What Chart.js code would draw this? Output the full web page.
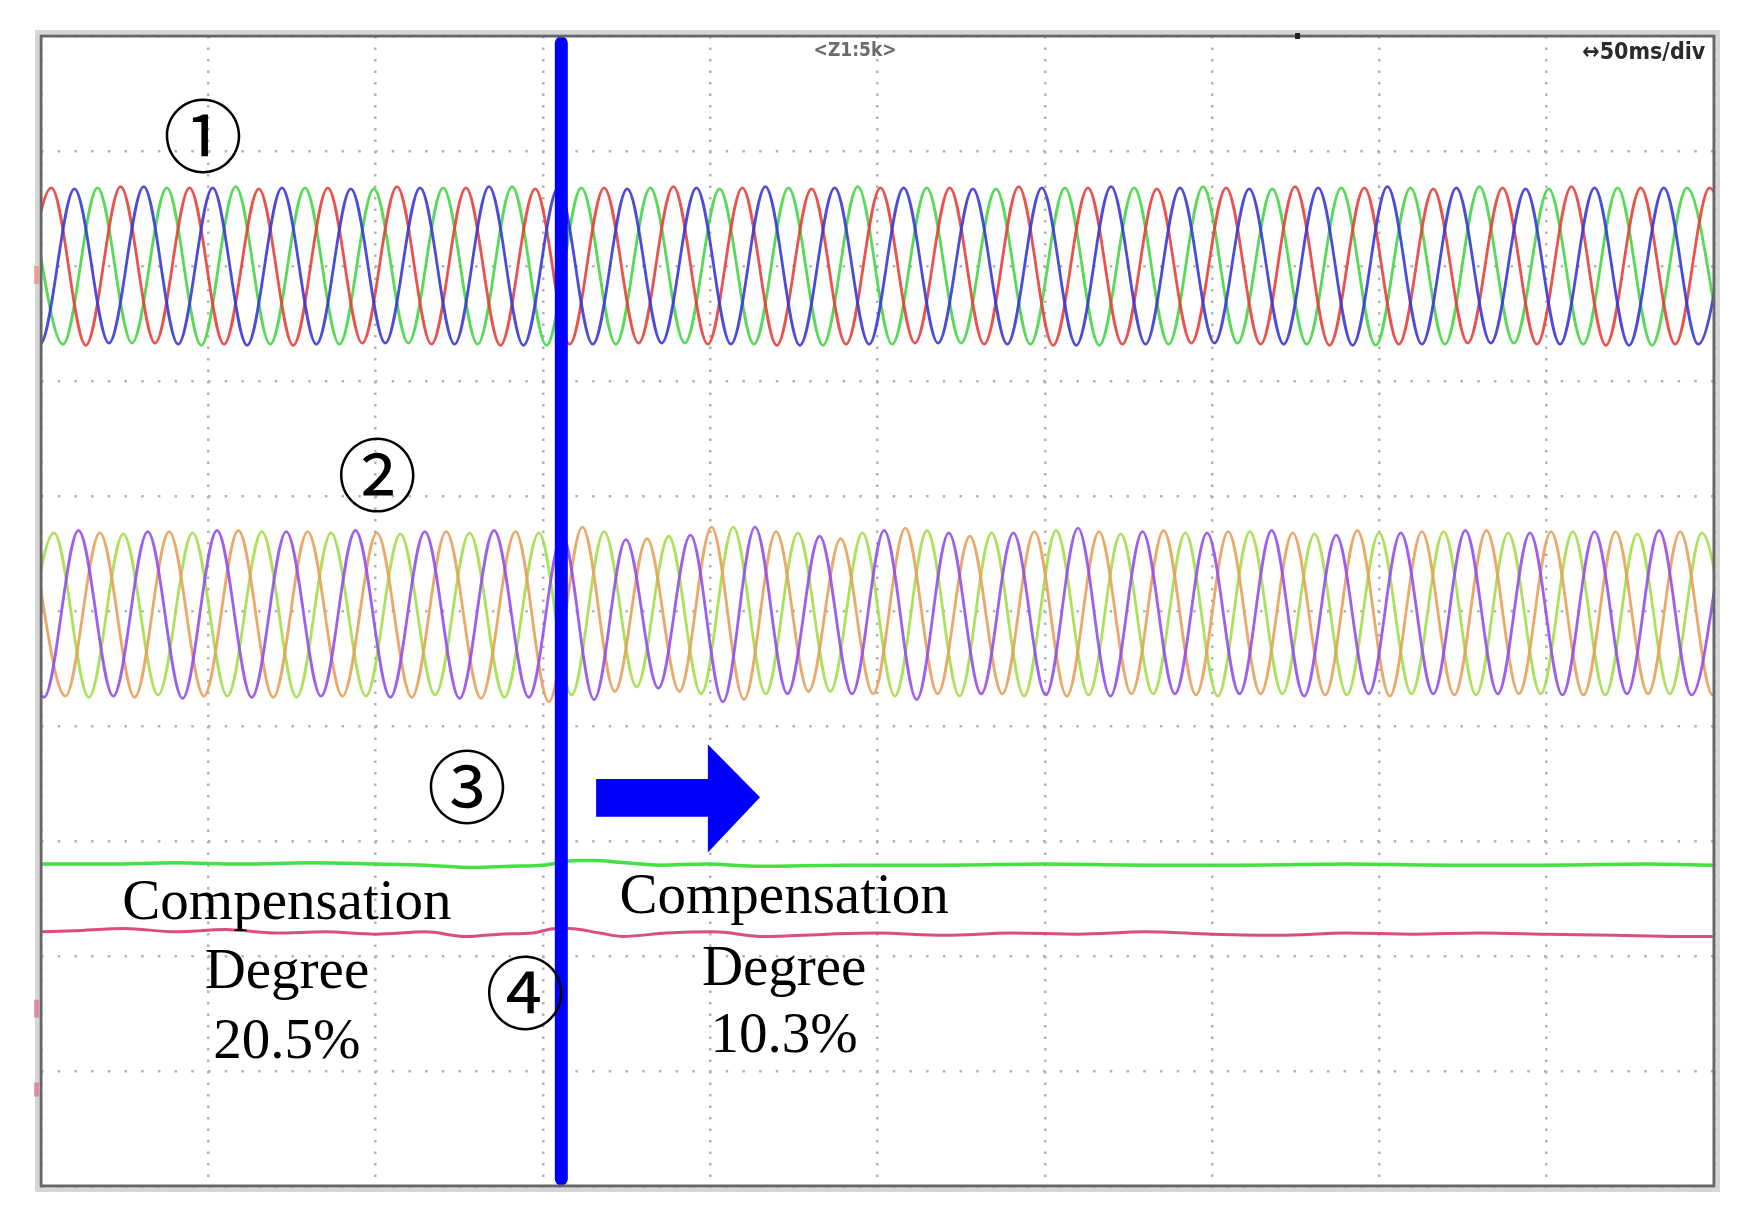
<!DOCTYPE html>
<html>
<head>
<meta charset="utf-8">
<title>Compensation degree waveforms</title>
<script src="https://cdn.jsdelivr.net/npm/chart.js@4.4.1/dist/chart.umd.min.js"></script>
<style>
  html, body { margin: 0; padding: 0; background: #ffffff; }
</style>
</head>
<body>
<canvas id="scope" width="1751" height="1225"></canvas>
<script>
// Screen: 10 x 10 divisions, 50 ms/div on the time axis, vertical in divisions (0 = bottom)
const timeTicks = [0, 50, 100, 150, 200, 250, 300, 350, 400, 450, 500];
const divTicks = [0, 1, 2, 3, 4, 5, 6, 7, 8, 9, 10];

// Trace 1 (three phases) - peak / trough times (ms) and levels (div)
const topRedT = [
  -7.2, 3.1, 13.4, 23.8, 34.1, 44.4, 54.7, 65.1, 75.4, 85.7,
  96.0, 106.4, 116.7, 127.0, 137.3, 147.7, 158.0, 168.3, 178.6, 189.0,
  199.3, 209.6, 219.9, 230.3, 240.6, 250.9, 261.2, 271.6, 281.9, 292.2,
  302.5, 312.9, 323.2, 333.5, 343.8, 354.2, 364.5, 374.8, 385.1, 395.5,
  405.8, 416.1, 426.4, 436.8, 447.1, 457.4, 467.7, 478.1, 488.4, 498.7,
  509.0
];
const topRedV = [
  7.32, 8.68, 7.31, 8.69, 7.33, 8.68, 7.32, 8.67, 7.31, 8.68,
  7.33, 8.69, 7.32, 8.68, 7.31, 8.67, 7.32, 8.68, 7.33, 8.69,
  7.32, 8.68, 7.31, 8.67, 7.32, 8.68, 7.33, 8.68, 7.32, 8.69,
  7.31, 8.68, 7.32, 8.67, 7.33, 8.68, 7.32, 8.69, 7.31, 8.68,
  7.32, 8.67, 7.33, 8.68, 7.32, 8.69, 7.31, 8.68, 7.32, 8.68,
  7.32
];
const topBlueT = [
  -10.6, -0.3, 10.0, 20.3, 30.7, 41.0, 51.3, 61.6, 72.0, 82.3,
  92.6, 102.9, 113.3, 123.6, 133.9, 144.2, 154.6, 164.9, 175.2, 185.5,
  195.9, 206.2, 216.5, 226.8, 237.2, 247.5, 257.8, 268.1, 278.5, 288.8,
  299.1, 309.4, 319.8, 330.1, 340.4, 350.7, 361.1, 371.4, 381.7, 392.0,
  402.4, 412.7, 423.0, 433.3, 443.7, 454.0, 464.3, 474.6, 485.0, 495.3,
  505.6
];
const topBlueV = [
  8.68, 7.32, 8.67, 7.33, 8.69, 7.32, 8.68, 7.31, 8.68, 7.32,
  8.67, 7.33, 8.68, 7.32, 8.69, 7.31, 8.68, 7.32, 8.67, 7.33,
  8.68, 7.32, 8.69, 7.31, 8.68, 7.32, 8.68, 7.33, 8.67, 7.32,
  8.68, 7.31, 8.69, 7.32, 8.68, 7.33, 8.67, 7.32, 8.68, 7.31,
  8.69, 7.32, 8.68, 7.33, 8.67, 7.32, 8.68, 7.31, 8.68, 7.32,
  8.68
];
const topGreenT = [
  -3.7, 6.6, 16.9, 27.2, 37.6, 47.9, 58.2, 68.5, 78.9, 89.2,
  99.5, 109.8, 120.2, 130.5, 140.8, 151.1, 161.5, 171.8, 182.1, 192.4,
  202.8, 213.1, 223.4, 233.7, 244.1, 254.4, 264.7, 275.0, 285.4, 295.7,
  306.0, 316.3, 326.7, 337.0, 347.3, 357.6, 368.0, 378.3, 388.6, 398.9,
  409.3, 419.6, 429.9, 440.2, 450.6, 460.9, 471.2, 481.5, 491.9, 502.2
];
const topGreenV = [
  8.67, 7.32, 8.68, 7.33, 8.68, 7.31, 8.69, 7.32, 8.68, 7.32,
  8.67, 7.33, 8.68, 7.32, 8.69, 7.31, 8.68, 7.32, 8.68, 7.33,
  8.67, 7.32, 8.68, 7.31, 8.69, 7.32, 8.68, 7.33, 8.67, 7.32,
  8.68, 7.31, 8.68, 7.32, 8.69, 7.33, 8.67, 7.32, 8.68, 7.31,
  8.68, 7.32, 8.69, 7.33, 8.67, 7.32, 8.68, 7.31, 8.68, 7.32
];

// Trace 2 (three phases) - peak / trough times (ms) and levels (div)
const midLimeT = [
  -6.5, 3.9, 14.3, 24.6, 35.0, 45.3, 55.7, 66.0, 76.4, 86.7,
  97.1, 107.4, 117.8, 128.1, 138.5, 148.8, 158.6, 168.3, 178.0, 187.6,
  197.3, 206.9, 216.6, 226.2, 235.9, 245.5, 255.2, 264.8, 274.5, 284.1,
  293.8, 303.4, 313.1, 322.7, 332.4, 342.0, 351.7, 361.3, 371.0, 380.6,
  390.3, 399.9, 409.6, 419.2, 428.9, 438.5, 448.2, 457.8, 467.5, 477.1,
  486.8, 496.4, 506.1
];
const midLimeV = [
  4.26, 5.68, 4.25, 5.67, 4.27, 5.68, 4.26, 5.69, 4.25, 5.68,
  4.26, 5.67, 4.27, 5.68, 4.25, 5.68, 4.27, 5.69, 4.34, 5.65,
  4.28, 5.73, 4.28, 5.68, 4.30, 5.68, 4.26, 5.70, 4.26, 5.68,
  4.26, 5.70, 4.27, 5.67, 4.28, 5.68, 4.26, 5.69, 4.28, 5.67,
  4.27, 5.68, 4.28, 5.69, 4.27, 5.68, 4.28, 5.69, 4.27, 5.67,
  4.28, 5.68, 4.27
];
const midPurpleT = [
  -9.5, 0.9, 11.2, 21.6, 31.9, 42.3, 52.6, 63.0, 73.3, 83.7,
  94.0, 104.4, 114.7, 125.1, 135.4, 145.8, 155.8, 165.3, 174.8, 184.5,
  194.1, 203.8, 213.4, 223.1, 232.7, 242.4, 252.0, 261.7, 271.3, 281.0,
  290.6, 300.3, 309.9, 319.6, 329.2, 338.9, 348.5, 358.2, 367.8, 377.5,
  387.1, 396.8, 406.4, 416.1, 425.7, 435.4, 445.0, 454.7, 464.3, 474.0,
  483.6, 493.3, 502.9
];
const midPurpleV = [
  5.69, 4.25, 5.70, 4.26, 5.69, 4.24, 5.70, 4.25, 5.69, 4.26,
  5.70, 4.25, 5.69, 4.24, 5.70, 4.25, 5.66, 4.23, 5.62, 4.33,
  5.66, 4.21, 5.73, 4.28, 5.65, 4.28, 5.70, 4.23, 5.68, 4.28,
  5.68, 4.27, 5.72, 4.26, 5.69, 4.28, 5.68, 4.28, 5.70, 4.26,
  5.66, 4.28, 5.68, 4.28, 5.70, 4.28, 5.68, 4.27, 5.69, 4.28,
  5.70, 4.27, 5.68
];
const midOrangeT = [
  -3.1, 7.3, 17.6, 28.0, 38.3, 48.7, 59.0, 69.4, 79.7, 90.1,
  100.4, 110.8, 121.1, 131.5, 141.8, 151.8, 161.8, 171.5, 181.1, 190.8,
  200.4, 210.1, 219.7, 229.4, 239.0, 248.7, 258.3, 268.0, 277.6, 287.3,
  296.9, 306.6, 316.2, 325.9, 335.5, 345.2, 354.8, 364.5, 374.1, 383.8,
  393.4, 403.1, 412.7, 422.4, 432.0, 441.7, 451.3, 461.0, 470.6, 480.3,
  489.9, 499.6, 509.2
];
const midOrangeV = [
  5.69, 4.26, 5.68, 4.25, 5.69, 4.26, 5.70, 4.25, 5.69, 4.26,
  5.68, 4.25, 5.69, 4.24, 5.69, 4.21, 5.73, 4.30, 5.63, 4.30,
  5.73, 4.23, 5.69, 4.30, 5.63, 4.28, 5.72, 4.28, 5.65, 4.28,
  5.69, 4.26, 5.69, 4.28, 5.70, 4.27, 5.69, 4.28, 5.68, 4.27,
  5.70, 4.26, 5.69, 4.27, 5.70, 4.28, 5.69, 4.27, 5.69, 4.28,
  5.69, 4.27, 5.68
];

// Trace 3 (green) and trace 4 (pink) - nearly flat levels
const ch3T = [0, 20, 40, 60, 80, 100, 115, 129, 140, 150, 160, 165, 175, 185, 199, 215, 240, 270, 300, 330, 360, 390, 420, 450, 480, 500];
const ch3V = [2.80, 2.80, 2.81, 2.80, 2.81, 2.80, 2.79, 2.77, 2.78, 2.79, 2.83, 2.83, 2.81, 2.79, 2.80, 2.78, 2.79, 2.79, 2.80, 2.79, 2.79, 2.80, 2.79, 2.79, 2.80, 2.79];
const ch4T = [0, 10, 25, 40, 55, 70, 85, 100, 115, 127, 137, 147, 154, 158, 167, 174, 187, 201, 216, 235, 250, 270, 290, 310, 330, 350, 370, 390, 410, 430, 450, 470, 490, 500];
const ch4V = [2.21, 2.22, 2.24, 2.21, 2.23, 2.20, 2.21, 2.19, 2.21, 2.17, 2.19, 2.20, 2.24, 2.24, 2.20, 2.17, 2.20, 2.21, 2.17, 2.19, 2.20, 2.18, 2.20, 2.19, 2.21, 2.19, 2.18, 2.20, 2.19, 2.20, 2.19, 2.18, 2.17, 2.17];

// Switching instant (blue cursor)
const cursorT = [155.5, 155.5];
const cursorV = [9.94, 0.06];

// Annotation texts
const circledLabels = ['①', '②', '③', '④'];
const beforeText = ['Compensation', 'Degree', '20.5%'];
const afterText = ['Compensation', 'Degree', '10.3%'];
const zoomText = '<Z1:5k>';
const timebaseText = '↔50ms/div';


// Pair up a time array and a level array into chart points
function toPoints(times, values) {
    const pts = [];
    const n = Math.min(times.length, values.length);
    for (let i = 0; i < n; i++) {
        pts.push({ x: times[i], y: values[i] });
    }
    return pts;
}

function trace(times, values, color, width) {
    return {
        data: toPoints(times, values),
        borderColor: color,
        borderWidth: width,
        pointRadius: 0,
        cubicInterpolationMode: 'monotone',
        fill: false,
        clip: 0
    };
}

// Decorations: frame, arrow, circled numbers, captions
const scopeDecor = {
    id: 'scopeDecor',
    afterDraw(chart) {
        const ctx = chart.ctx;
        const xs = chart.scales.x;
        const ys = chart.scales.y;
        const px = (t) => xs.getPixelForValue(t);
        const py = (v) => ys.getPixelForValue(v);
        const area = chart.chartArea;

        ctx.save();

        // screen frame
        ctx.strokeStyle = '#d6d6d6';
        ctx.lineWidth = 4;
        ctx.strokeRect(area.left - 4, area.top - 4, area.right - area.left + 8, area.bottom - area.top + 8);
        ctx.strokeStyle = '#666666';
        ctx.lineWidth = 3;
        ctx.strokeRect(area.left, area.top, area.right - area.left, area.bottom - area.top);

        // channel markers on the left edge
        ctx.fillStyle = 'rgba(236,120,110,0.6)';
        ctx.fillRect(px(-2.1), py(8.0), 5, 18);
        ctx.fillStyle = 'rgba(220,80,120,0.55)';
        ctx.fillRect(px(-2.1), py(1.62), 5, 18);
        ctx.fillRect(px(-2.1), py(0.9), 5, 14);

        // trigger mark on the top edge
        ctx.fillStyle = '#222';
        ctx.fillRect(px(375.4) - 2, area.top - 3, 5, 6);

        // blue arrow (to the right of the switching instant)
        ctx.fillStyle = '#0000ff';
        ctx.beginPath();
        ctx.moveTo(px(165.9), py(3.54));
        ctx.lineTo(px(199.3), py(3.54));
        ctx.lineTo(px(199.3), py(3.84));
        ctx.lineTo(px(214.9), py(3.38));
        ctx.lineTo(px(199.3), py(2.90));
        ctx.lineTo(px(199.3), py(3.21));
        ctx.lineTo(px(165.9), py(3.21));
        ctx.closePath();
        ctx.fill();

        // circled channel numbers
        const circledPos = [[48.4, 9.13], [100.5, 6.19], [127.3, 3.47], [144.7, 1.68]];
        ctx.fillStyle = '#000';
        ctx.textAlign = 'center';
        ctx.textBaseline = 'middle';
        ctx.font = '80px "Noto Sans CJK JP", "DejaVu Sans", serif';
        circledLabels.forEach((s, i) => {
            ctx.fillText(s, px(circledPos[i][0]), py(circledPos[i][1]));
        });

        // compensation degree captions
        ctx.textBaseline = 'alphabetic';
        ctx.font = '57px "Liberation Serif", "Times New Roman", serif';
        const leftRows = [2.32, 1.72, 1.11];
        const rightRows = [2.37, 1.75, 1.165];
        beforeText.forEach((s, i) => ctx.fillText(s, px(73.5), py(leftRows[i])));
        afterText.forEach((s, i) => ctx.fillText(s, px(222.1), py(rightRows[i])));

        // scope header texts
        ctx.textBaseline = 'middle';
        ctx.fillStyle = '#6a6a6a';
        ctx.font = 'bold 19px "DejaVu Sans Condensed", "Liberation Sans Narrow", sans-serif';
        ctx.fillText(zoomText, px(243.3), py(9.87));
        ctx.textAlign = 'right';
        ctx.fillStyle = '#2a2a2a';
        ctx.font = 'bold 23px "Liberation Sans Narrow", "DejaVu Sans Condensed", sans-serif';
        ctx.fillText(timebaseText, px(497.4), py(9.855));

        ctx.restore();
    }
};

const datasets = [
    {
        data: toPoints(cursorT, cursorV),
        borderColor: '#0000ff',
        borderWidth: 13,
        borderCapStyle: 'round',
        pointRadius: 0,
        fill: false,
        clip: false
    },
    trace(ch3T, ch3V, 'rgba(58,222,58,0.95)', 3.5),
    trace(ch4T, ch4V, 'rgba(214,58,112,0.9)', 3),
    trace(topBlueT, topBlueV, 'rgba(56,56,214,0.9)', 2.8),
    trace(topRedT, topRedV, 'rgba(230,64,58,0.9)', 2.8),
    trace(topGreenT, topGreenV, 'rgba(70,214,70,0.9)', 2.8),
    trace(midPurpleT, midPurpleV, 'rgba(146,78,236,0.9)', 2.8),
    trace(midOrangeT, midOrangeV, 'rgba(232,160,90,0.9)', 2.8),
    trace(midLimeT, midLimeV, 'rgba(162,222,74,0.9)', 2.8)
];

new Chart(document.getElementById('scope'), {
    type: 'line',
    data: { datasets: datasets },
    options: {
        responsive: false,
        devicePixelRatio: 1,
        animation: false,
        events: [],
        layout: { padding: { left: 41, top: 36, right: 37, bottom: 39 } },
        plugins: {
            legend: { display: false },
            tooltip: { enabled: false }
        },
        scales: {
            x: {
                type: 'linear',
                min: timeTicks[0],
                max: timeTicks[timeTicks.length - 1],
                afterBuildTicks: (scale) => { scale.ticks = timeTicks.map(v => ({ value: v })); },
                ticks: { display: false },
                grid: { color: '#b2b2b2', lineWidth: 2.5, drawTicks: false },
                border: { display: false, dash: [2.5, 9] }
            },
            y: {
                type: 'linear',
                min: divTicks[0],
                max: divTicks[divTicks.length - 1],
                afterBuildTicks: (scale) => { scale.ticks = divTicks.map(v => ({ value: v })); },
                ticks: { display: false },
                grid: { color: '#b2b2b2', lineWidth: 2.5, drawTicks: false },
                border: { display: false, dash: [2.5, 14.2] }
            }
        }
    },
    plugins: [scopeDecor]
});
</script>
</body>
</html>
